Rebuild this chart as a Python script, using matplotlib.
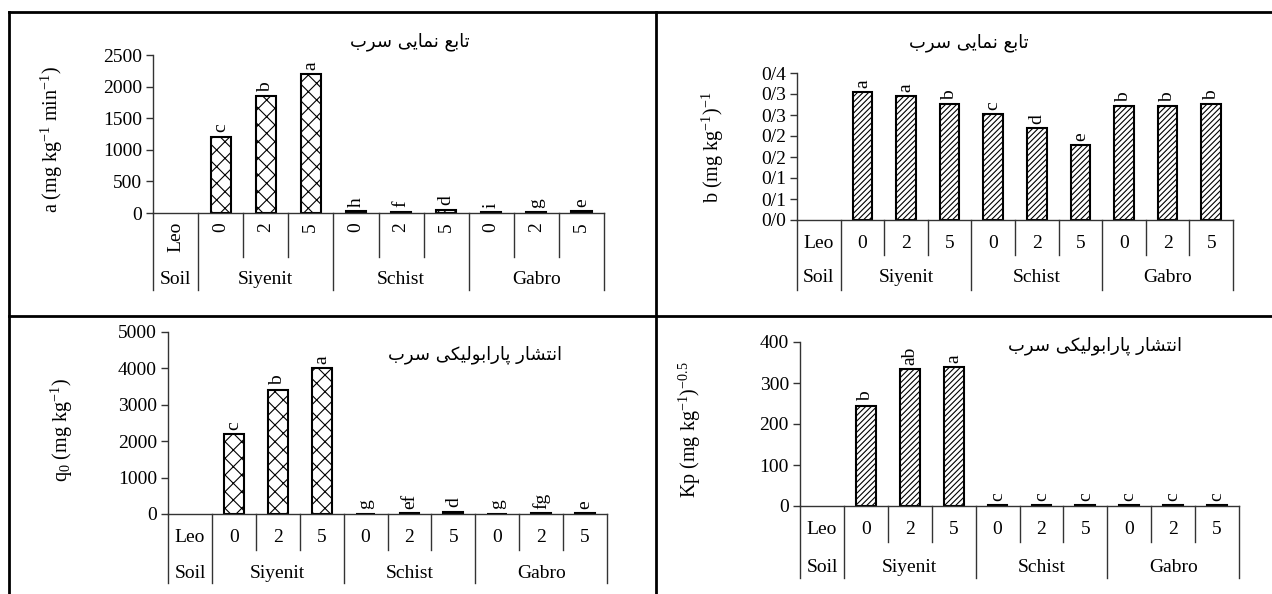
import numpy as np
import matplotlib as mpl
mpl.use('Agg')
import matplotlib.pyplot as plt
from matplotlib.lines import Line2D
from matplotlib.ticker import FuncFormatter
from matplotlib.font_manager import findfont, FontProperties
from matplotlib.ft2font import FT2Font

mpl.rcParams.update({'font.size': 13,
                     'font.family': 'Liberation Serif',
                     'mathtext.fontset': 'custom',
                     'mathtext.rm': 'Liberation Serif',
                     'mathtext.default': 'regular',
                     'hatch.linewidth': 0.8,
                    })

# ---- data ----
categories = ['Leo', '0', '2', '5', '0', '2', '5', '0', '2', '5']
groups = ['Soil', 'Siyenit', 'Schist', 'Gabro']
group_pos = [0, 2, 5, 8]

a_vals = [0, 1210, 1845, 2195, 25, 22, 55, 20, 20, 35]
a_letters = ['', 'c', 'b', 'a', 'h', 'f', 'd', 'i', 'g', 'e']

b_vals = [0, 0.305, 0.295, 0.276, 0.253, 0.218, 0.179, 0.271, 0.271, 0.276]
b_letters = ['', 'a', 'a', 'b', 'c', 'd', 'e', 'b', 'b', 'b']

q0_vals = [0, 2190, 3420, 4015, 12, 30, 65, 12, 30, 30]
q0_letters = ['', 'c', 'b', 'a', 'g', 'ef', 'd', 'g', 'fg', 'e']

kp_vals = [0, 245, 334, 338, 2, 2, 2, 2, 3, 3]
kp_letters = ['', 'b', 'ab', 'a', 'c', 'c', 'c', 'c', 'c', 'c']

title_exp = 'تابع نمایی سرب'
title_par = 'انتشار پارابولیکی سرب'

# ---- simple persian shaping (matplotlib has no text shaping) ----
FA_FONT = 'DejaVu Sans'
_cmap = FT2Font(findfont(FontProperties(family=FA_FONT))).get_charmap()
FORMS = {  # iso, fin, ini, med
    'ا': (0xFE8D, 0xFE8E), 'ر': (0xFEAD, 0xFEAE), 'و': (0xFEED, 0xFEEE),
    'ب': (0xFE8F, 0xFE90, 0xFE91, 0xFE92),
    'پ': (0xFB56, 0xFB57, 0xFB58, 0xFB59),
    'ت': (0xFE95, 0xFE96, 0xFE97, 0xFE98),
    'ع': (0xFEC9, 0xFECA, 0xFECB, 0xFECC),
    'ن': (0xFEE5, 0xFEE6, 0xFEE7, 0xFEE8),
    'م': (0xFEE1, 0xFEE2, 0xFEE3, 0xFEE4),
    'ی': (0xFBFC, 0xFBFD, 0xFBFE, 0xFBFF),
    'س': (0xFEB1, 0xFEB2, 0xFEB3, 0xFEB4),
    'ش': (0xFEB5, 0xFEB6, 0xFEB7, 0xFEB8),
    'ل': (0xFEDD, 0xFEDE, 0xFEDF, 0xFEE0),
    'ک': (0xFB8E, 0xFB8F, 0xFB90, 0xFB91),
}
ALT = {'ی': (0xFEEF, 0xFEF0, 0xFEF3, 0xFEF4),
       'ک': (0xFED9, 0xFEDA, 0xFEDB, 0xFEDC)}


def fa(text):
    out = []
    for i, ch in enumerate(text):
        f = FORMS.get(ch)
        if f is None:
            out.append(ch)
            continue
        prev = text[i-1] if i > 0 else ''
        nxt = text[i+1] if i + 1 < len(text) else ''
        jp = prev in FORMS and len(FORMS[prev]) == 4
        jn = nxt in FORMS and len(f) == 4
        k = 2 * jn + jp
        cp = f[k]
        if cp not in _cmap and ch in ALT:
            cp = ALT[ch][k]
        out.append(chr(cp) if cp in _cmap else ch)
    return ''.join(reversed(out))


W, H = 1272, 594
fig = plt.figure(figsize=(W/100, H/100), dpi=100)


def fline(xs, ys, lw=2):
    fig.add_artist(Line2D([x/W for x in xs], [1 - y/H for y in ys],
                          transform=fig.transFigure, color='black', lw=lw))


# frame of the table
fline([9, W], [12, 12])
fline([9, 9], [12, H])
fline([656, 656], [12, H])
fline([9, W], [316, 316])

TXT = 14


def panel(vals, letters, box, ymax, step, hatch, ylabel, ylab_px, title, title_px,
          rows, rot_first=False, fmt=None):
    x0, x1, ytop, yzero = box
    ax = fig.add_axes([x0/W, 1 - yzero/H, (x1-x0)/W, (yzero-ytop)/H])
    xs = np.arange(len(categories))
    bars = ax.bar(xs, vals, width=0.45, color='white', edgecolor='black',
                  hatch=hatch, linewidth=1.5)
    for bar, v in zip(bars, vals):
        if v == 0:
            bar.set_visible(False)
    ax.bar_label(bars, labels=letters, padding=3, rotation=90, fontsize=TXT)
    ax.set_xlim(-0.5, len(categories) - 0.5)
    ax.set_ylim(0, ymax)
    ax.set_yticks(np.arange(0, ymax + step/2, step))
    if fmt is not None:
        ax.yaxis.set_major_formatter(FuncFormatter(fmt))
    ax.set_xticks([])
    for s in ['top', 'right']:
        ax.spines[s].set_visible(False)
    for s in ['left', 'bottom']:
        ax.spines[s].set_color('#333333')
        ax.spines[s].set_linewidth(1)
    ax.tick_params(axis='y', direction='out', length=5, width=1,
                   color='#333333', labelsize=TXT, pad=3)
    ax.patch.set_alpha(0)

    # category table below the axis
    hpx = yzero - ytop
    to_ax = lambda y: (yzero - y) / hpx
    row1_y, row2_y, inner_b, group_b = rows
    tr = ax.get_xaxis_transform()
    for k in range(len(categories) + 1):
        b = k - 0.5
        bottom = group_b if k in (0, 1, 4, 7, 10) else inner_b
        ax.plot([b, b], [0, to_ax(bottom)], transform=tr, color='#333333',
                lw=1, clip_on=False)
    for i, lab in enumerate(categories):
        if rot_first:
            ax.text(i, to_ax(row1_y), lab, transform=tr, rotation=90,
                    ha='center', va='top', fontsize=TXT)
        else:
            ax.text(i, to_ax(row1_y), lab, transform=tr,
                    ha='center', va='center', fontsize=TXT)
    for g, p in zip(groups, group_pos):
        ax.text(p, to_ax(row2_y), g, transform=tr, ha='center', va='center',
                fontsize=TXT)

    fig.text(ylab_px[0]/W, 1 - ylab_px[1]/H, ylabel, rotation=90,
             ha='center', va='center', fontsize=14.5)
    fig.text(title_px[0]/W, 1 - title_px[1]/H, fa(title), family=[FA_FONT],
             fontsize=13, ha='center', va='center')
    return ax


def persian_dec(v, pos):
    return f"{np.floor(v*10 + 0.5 + 1e-9)/10:.1f}".replace('.', '/')


panel(a_vals, a_letters, (153, 604, 55, 213), 2500, 500, 'xx',
      r'a (mg kg$^{-1}$ min$^{-1}$)', (52, 140), title_exp, (410, 42),
      (222, 279, 257, 290), rot_first=True)

panel(b_vals, b_letters, (797, 1233, 73, 220), 0.35, 0.05, '//////',
      r'b (mg kg$^{-1}$)$^{-1}$', (713, 147), title_exp, (969, 43),
      (243, 278, 255, 290), fmt=persian_dec)

panel(q0_vals, q0_letters, (168, 607, 332, 514), 5000, 1000, 'xx',
      r'q$_0$ (mg kg$^{-1}$)', (62, 430), title_par, (475, 355),
      (538, 573, 550, 583))

panel(kp_vals, kp_letters, (800, 1239, 342, 506), 400, 100, '//////',
      r'Kp (mg kg$^{-1}$)$^{-0.5}$', (690, 430), title_par, (1095, 346),
      (530, 567, 542, 578))

fig.savefig('out.png', dpi=100)
